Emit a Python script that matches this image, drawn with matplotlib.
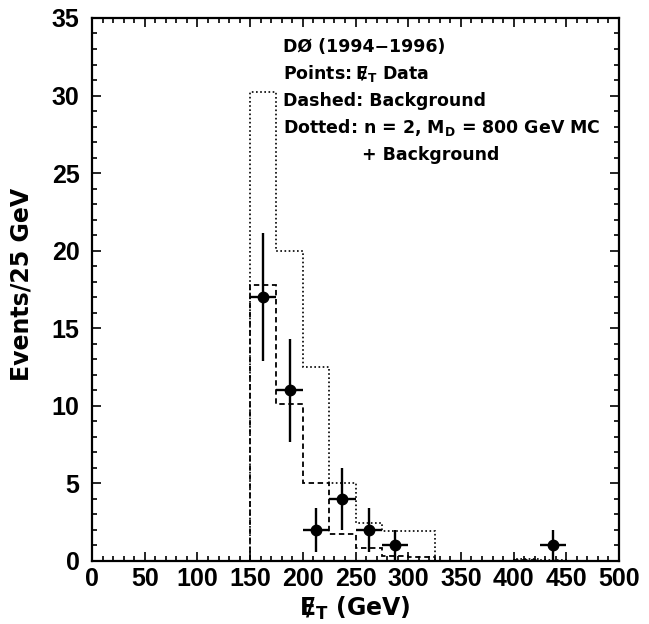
import numpy as np
import matplotlib
matplotlib.use("Agg")
import matplotlib.pyplot as plt
from matplotlib.ticker import MultipleLocator

# --- data ---
bin_edges = [150, 175, 200, 225, 250, 275, 300, 325]
background = [17.8, 10.1, 5.05, 1.75, 0.85, 0.3, 0.25]
signal_plus_bkg = [30.2, 20.0, 12.5, 5.0, 2.45, 1.9, 1.9]
tail_edges = [400, 425, 450]
tail_bkg = [0.05, 0.0]
tail_sig = [0.1, 0.05]

data_x = [162.5, 187.5, 212.5, 237.5, 262.5, 287.5, 437.5]
data_y = [17, 11, 2, 4, 2, 1, 1]
data_yerr = [4.12, 3.32, 1.41, 2.0, 1.41, 1.0, 1.0]
data_xerr = [12.5, 12.5, 12.5, 12.5, 12.5, 12.5, 12.5]

x_ticks = [0, 50, 100, 150, 200, 250, 300, 350, 400, 450, 500]
y_ticks = [0, 5, 10, 15, 20, 25, 30, 35]

MET = "$\\mathregular{\\,/\\!\\!\\!\\!E_T}$"

legend_lines = [
    "D\u00d8 (1994\u22121996)",
    "Points: " + MET + " Data",
    "Dashed: Background",
    "Dotted: n = 2, $\\mathregular{M_D}$ = 800 GeV MC",
    "+ Background",
]
legend_x = [0.362, 0.362, 0.362, 0.362, 0.512]

fig = plt.figure(figsize=(6.49, 6.24), dpi=100)
ax = fig.add_axes([0.1418, 0.101, 0.8120, 0.8702])

ax.stairs(signal_plus_bkg, bin_edges, baseline=0, color="black", lw=1.2,
          linestyle=(0, (1, 1.5)))
ax.stairs(tail_sig, tail_edges, baseline=0, color="black", lw=1.2,
          linestyle=(0, (1, 1.5)))
ax.stairs(background, bin_edges, baseline=0, color="black", lw=1.3,
          linestyle=(0, (3, 2)))
ax.stairs(tail_bkg, tail_edges, baseline=0, color="black", lw=1.3,
          linestyle=(0, (3, 2)))

ax.errorbar(data_x, data_y, xerr=data_xerr, yerr=data_yerr, fmt="o",
            color="black", ms=7.5, elinewidth=1.7, capsize=0)

ax.set_xlim(0, 500)
ax.set_ylim(0, 35)
ax.xaxis.set_minor_locator(MultipleLocator(10))
ax.yaxis.set_minor_locator(MultipleLocator(1))
ax.set_xticks(x_ticks)
ax.set_yticks(y_ticks)
ax.set_xticklabels([str(v) for v in x_ticks])
ax.set_yticklabels([str(v) for v in y_ticks])

ax.tick_params(which="both", direction="in", top=True, right=True, width=1.2)
ax.tick_params(which="major", length=6.5)
ax.tick_params(which="minor", length=3.3)
ax.tick_params(axis="y", which="major", pad=9)
ax.tick_params(axis="x", which="major", pad=4)
for lbl in ax.get_xticklabels() + ax.get_yticklabels():
    lbl.set_fontfamily(["Liberation Sans Narrow", "Liberation Sans"])
    lbl.set_fontweight("bold")
    lbl.set_fontsize(18)
for sp in ax.spines.values():
    sp.set_linewidth(1.6)

ax.set_xlabel(MET + " (GeV)", fontsize=17,
              family="DejaVu Sans", fontweight="bold", labelpad=3)
ax.set_ylabel("Events/25 GeV", fontsize=17, family="DejaVu Sans",
              fontweight="bold", labelpad=12)
ax.yaxis.set_label_coords(-0.112, 0.51)

y0 = 0.9466
dy = 0.0497
for i, line in enumerate(legend_lines):
    ax.text(legend_x[i], y0 - i * dy, line, transform=ax.transAxes,
            fontsize=12.5, family="DejaVu Sans", fontweight="bold",
            va="center", ha="left")

fig.savefig("out.png", dpi=100)
